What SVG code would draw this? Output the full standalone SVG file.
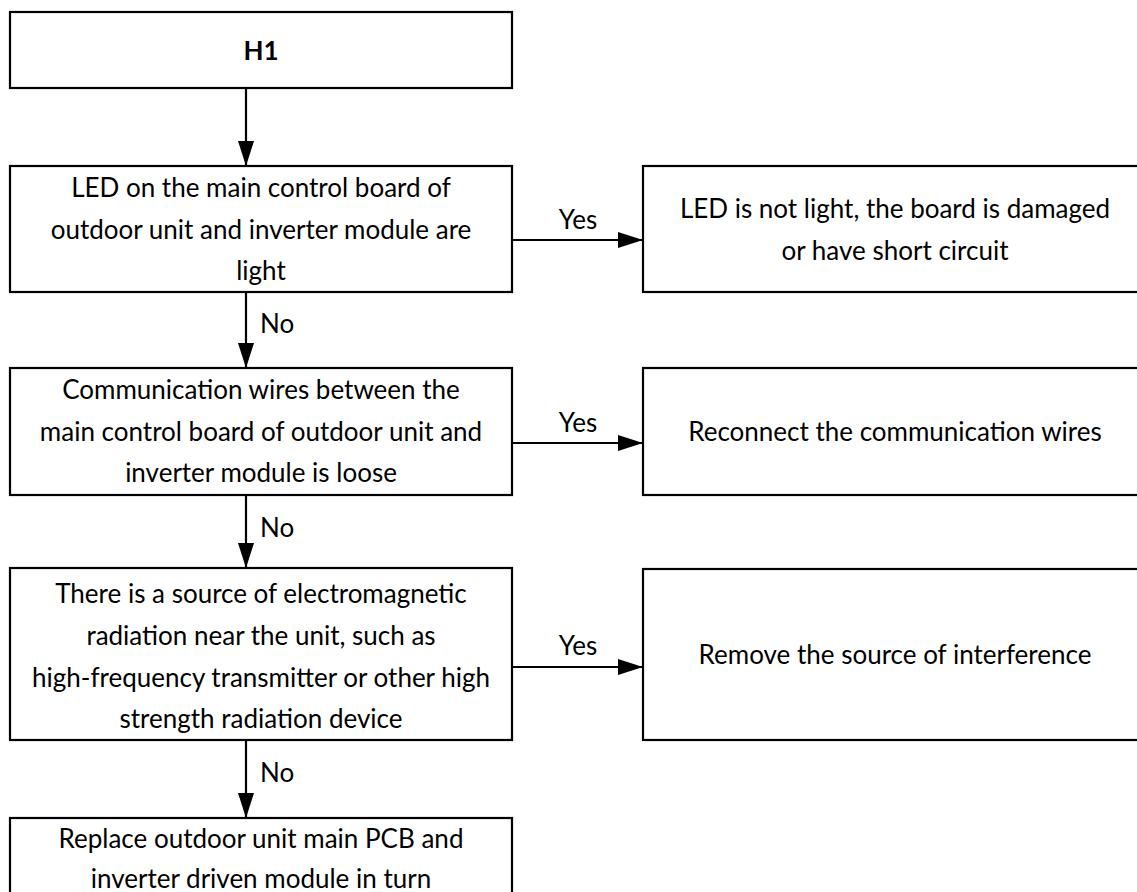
<svg xmlns="http://www.w3.org/2000/svg" width="1137" height="892" viewBox="0 0 1137 892">
<style>
.box{fill:#fff;stroke:#000;stroke-width:2.2}
.t{font-family:Lato,"Liberation Sans",sans-serif;font-size:26px;fill:#000;text-anchor:middle}
.b{font-weight:bold}
.lbl{font-family:Lato,"Liberation Sans",sans-serif;font-size:26px;fill:#000}
.c{stroke:#000;stroke-width:2.2;fill:none}
</style>
<defs>
<marker id="ah" viewBox="0 0 25 16" refX="25" refY="8" markerWidth="25" markerHeight="16" markerUnits="userSpaceOnUse" orient="auto">
<path d="M0,0 L25,8 L0,16 Z" fill="#000"/>
</marker>
</defs>
<rect width="1137" height="892" fill="#fff"/>
<g id="connectors">
<line class="c" x1="246" y1="88" x2="246" y2="166" marker-end="url(#ah)"/>
<line class="c" x1="246" y1="292" x2="246" y2="368" marker-end="url(#ah)"/>
<line class="c" x1="246" y1="495" x2="246" y2="568" marker-end="url(#ah)"/>
<line class="c" x1="246" y1="740" x2="246" y2="818" marker-end="url(#ah)"/>
<line class="c" x1="512" y1="240" x2="643" y2="240" marker-end="url(#ah)"/>
<line class="c" x1="512" y1="443" x2="643" y2="443" marker-end="url(#ah)"/>
<line class="c" x1="512" y1="667" x2="643" y2="667" marker-end="url(#ah)"/>
<text class="lbl" x="260" y="333">No</text>
<text class="lbl" x="260" y="537">No</text>
<text class="lbl" x="260" y="782">No</text>
<text class="lbl" x="578" y="229" text-anchor="middle">Yes</text>
<text class="lbl" x="578" y="432" text-anchor="middle">Yes</text>
<text class="lbl" x="578" y="655" text-anchor="middle">Yes</text>
</g>
<g id="h1">
<rect class="box" x="10" y="12" width="502" height="76"/>
<text class="t b" x="261" y="60">H1</text>
</g>
<g id="led">
<rect class="box" x="10" y="166" width="502" height="126"/>
<text class="t" x="261" y="197">LED on the main control board of</text>
<text class="t" x="261" y="239">outdoor unit and inverter module are</text>
<text class="t" x="261" y="280">light</text>
</g>
<g id="led-result">
<rect class="box" x="643" y="166" width="510" height="126"/>
<text class="t" x="895" y="218">LED is not light, the board is damaged</text>
<text class="t" x="895" y="260">or have short circuit</text>
</g>
<g id="comm">
<rect class="box" x="10" y="368" width="502" height="127"/>
<text class="t" x="261" y="399">Communication wires between the</text>
<text class="t" x="261" y="441">main control board of outdoor unit and</text>
<text class="t" x="261" y="482">inverter module is loose</text>
</g>
<g id="comm-result">
<rect class="box" x="643" y="368" width="510" height="127"/>
<text class="t" x="895" y="441">Reconnect the communication wires</text>
</g>
<g id="emr">
<rect class="box" x="10" y="568" width="502" height="172"/>
<text class="t" x="261" y="603">There is a source of electromagnetic</text>
<text class="t" x="261" y="645">radiation near the unit, such as</text>
<text class="t" x="261" y="687">high-frequency transmitter or other high</text>
<text class="t" x="261" y="728">strength radiation device</text>
</g>
<g id="emr-result">
<rect class="box" x="643" y="569" width="510" height="171"/>
<text class="t" x="895" y="664">Remove the source of interference</text>
</g>
<g id="replace">
<rect class="box" x="10" y="818" width="502" height="90"/>
<text class="t" x="261" y="848">Replace outdoor unit main PCB and</text>
<text class="t" x="261" y="888">inverter driven module in turn</text>
</g>
</svg>
